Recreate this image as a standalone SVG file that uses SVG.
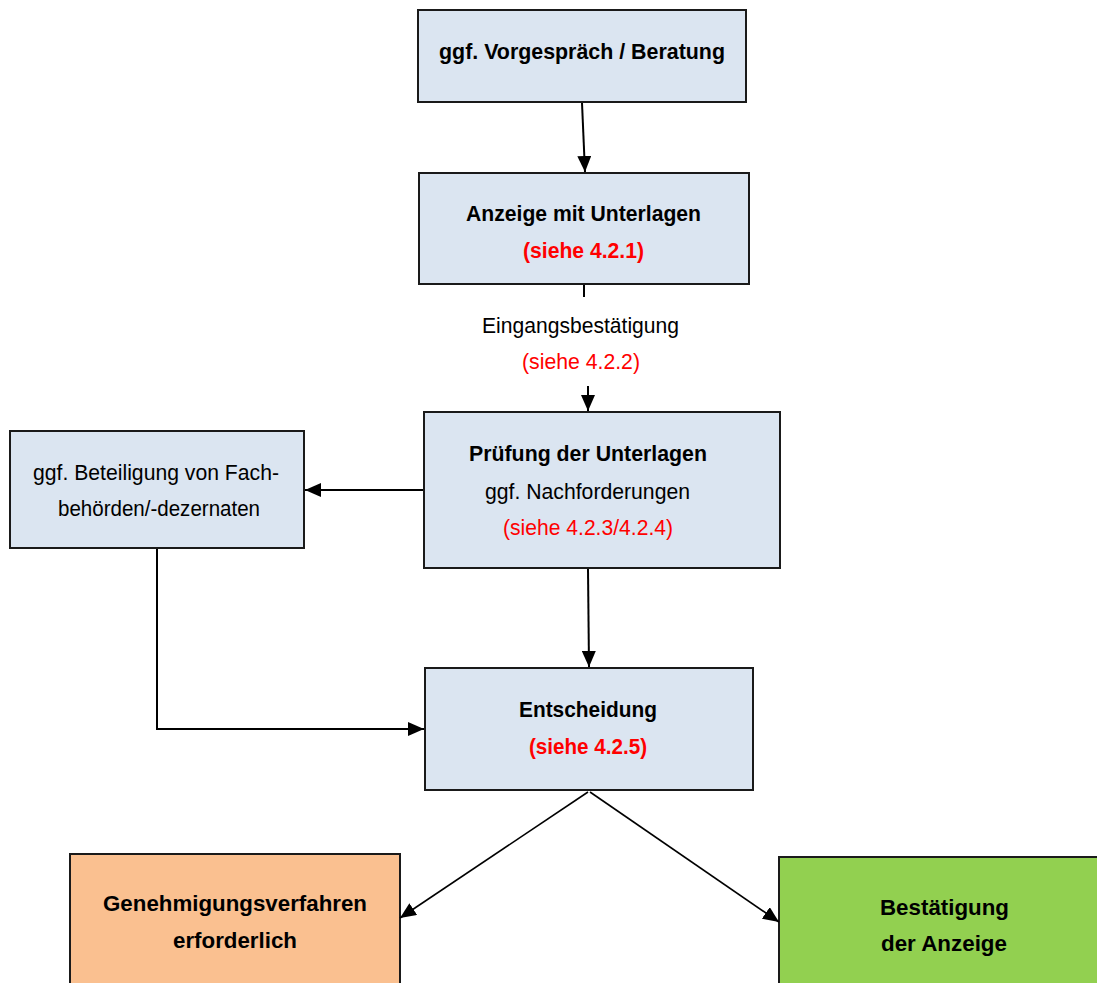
<svg xmlns="http://www.w3.org/2000/svg" width="1097" height="983" viewBox="0 0 1097 983">
<style>
.box{fill:#dbe5f1;stroke:#1a1a1a;stroke-width:2}
.peach{fill:#fac090;stroke:#1a1a1a;stroke-width:2}
.green{fill:#92d050;stroke:#1a1a1a;stroke-width:2}
text{font-family:"Liberation Sans",Arial,sans-serif;font-size:21.5px;text-anchor:middle;fill:#000}
.b{font-weight:bold}
.red{fill:#ff0000}
.con{stroke:#000;stroke-width:2;fill:none}
.thin{stroke-width:1.6}
</style>
<defs>
<marker id="ah" markerUnits="userSpaceOnUse" markerWidth="16" markerHeight="14" refX="16" refY="7" orient="auto">
<path d="M0,0 L16,7 L0,14 z" fill="#000"/>
</marker>
</defs>
<rect width="1097" height="983" fill="#ffffff"/>
<g id="n1">
<rect class="box" x="418" y="10" width="328" height="92"/>
<text class="b" x="582" y="59" textLength="286" lengthAdjust="spacingAndGlyphs">ggf. Vorgespräch / Beratung</text>
</g>
<g id="n2">
<rect class="box" x="419" y="173" width="330" height="111"/>
<text class="b" x="583.5" y="221" textLength="235" lengthAdjust="spacingAndGlyphs">Anzeige mit Unterlagen</text>
<text class="b red" x="583.5" y="258" textLength="121" lengthAdjust="spacingAndGlyphs">(siehe 4.2.1)</text>
</g>
<g id="label-eingang">
<text x="580.5" y="333" textLength="197" lengthAdjust="spacingAndGlyphs">Eingangsbestätigung</text>
<text class="red" x="581" y="369" textLength="118" lengthAdjust="spacingAndGlyphs">(siehe 4.2.2)</text>
</g>
<g id="n3">
<rect class="box" x="424" y="412" width="356" height="156"/>
<text class="b" x="588" y="461" textLength="238" lengthAdjust="spacingAndGlyphs">Prüfung der Unterlagen</text>
<text x="587.5" y="499" textLength="205" lengthAdjust="spacingAndGlyphs">ggf. Nachforderungen</text>
<text class="red" x="588" y="535" textLength="170" lengthAdjust="spacingAndGlyphs">(siehe 4.2.3/4.2.4)</text>
</g>
<g id="n4">
<rect class="box" x="10" y="431" width="294" height="117"/>
<text x="156" y="480" textLength="246" lengthAdjust="spacingAndGlyphs">ggf. Beteiligung von Fach-</text>
<text x="159" y="516" textLength="202" lengthAdjust="spacingAndGlyphs">behörden/-dezernaten</text>
</g>
<g id="n5">
<rect class="box" x="425" y="668" width="328" height="122"/>
<text class="b" x="588" y="717" textLength="138" lengthAdjust="spacingAndGlyphs">Entscheidung</text>
<text class="b red" x="588" y="754" textLength="118" lengthAdjust="spacingAndGlyphs">(siehe 4.2.5)</text>
</g>
<g id="n6">
<rect class="peach" x="70" y="854" width="330" height="140"/>
<text class="b" x="235" y="911" textLength="264" lengthAdjust="spacingAndGlyphs">Genehmigungsverfahren</text>
<text class="b" x="235" y="948" textLength="124" lengthAdjust="spacingAndGlyphs">erforderlich</text>
</g>
<g id="n7">
<rect class="green" x="779" y="857" width="330" height="140"/>
<text class="b" x="944.5" y="915" textLength="129" lengthAdjust="spacingAndGlyphs">Bestätigung</text>
<text class="b" x="944" y="951" textLength="126" lengthAdjust="spacingAndGlyphs">der Anzeige</text>
</g>
<g id="connectors">
<line class="con" x1="582" y1="103" x2="585" y2="172" marker-end="url(#ah)"/>
<line class="con" x1="584" y1="285" x2="584" y2="297"/>
<line class="con" x1="588" y1="386" x2="588" y2="411" marker-end="url(#ah)"/>
<line class="con" x1="423" y1="490" x2="305" y2="490" marker-end="url(#ah)"/>
<line class="con" x1="588" y1="569" x2="589" y2="667" marker-end="url(#ah)"/>
<polyline class="con" points="157,549 157,729 424,729" marker-end="url(#ah)"/>
<line class="con thin" x1="588" y1="792" x2="400" y2="918" marker-end="url(#ah)"/>
<line class="con thin" x1="590" y1="792" x2="779" y2="922" marker-end="url(#ah)"/>
</g>
</svg>
